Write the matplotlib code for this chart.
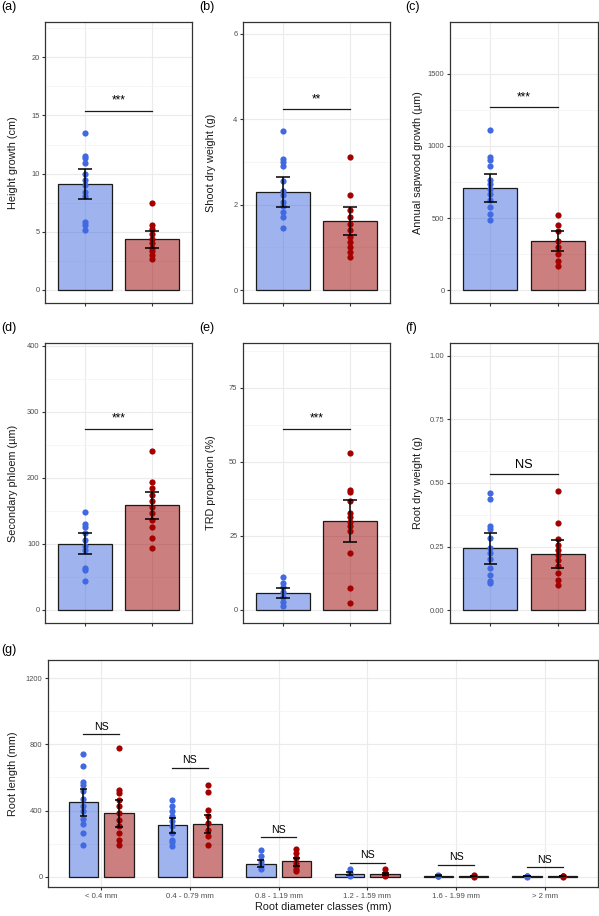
import matplotlib.pyplot as plt
import numpy as np

plt.rcParams['font.family'] = ['Liberation Sans', 'DejaVu Sans']

# ---- data ----
# (a) height growth
a_blue = [13.5, 11.5, 11.3, 10.9, 10.0, 9.4, 9.0, 8.4, 8.1, 5.8, 5.55, 5.1]
a_red = [7.5, 5.6, 5.2, 4.8, 4.4, 4.0, 3.6, 3.3, 3.0, 2.6]
a_mean = [9.1, 4.35]
a_lo = [7.8, 3.6]
a_hi = [10.4, 5.05]
# (b) shoot dry weight
b_blue = [3.72, 3.08, 3.0, 2.91, 2.55, 2.32, 2.24, 2.06, 1.96, 1.83, 1.71, 1.45]
b_red = [3.13, 2.24, 1.87, 1.71, 1.55, 1.40, 1.24, 1.12, 1.0, 0.89, 0.77]
b_mean = [2.3, 1.62]
b_lo = [1.95, 1.3]
b_hi = [2.65, 1.94]
# (c) annual sapwood growth
c_blue = [1110, 924, 901, 862, 762, 738, 704, 669, 622, 576, 530, 488]
c_red = [522, 453, 413, 344, 297, 251, 204, 170]
c_mean = [710, 340]
c_lo = [612, 270]
c_hi = [803, 408]
# (d) secondary phloem
d_blue = [148, 130, 126, 116, 106, 96, 91, 63, 60, 44]
d_red = [240, 194, 184, 174, 164, 156, 146, 136, 126, 108, 93]
d_mean = [100, 158]
d_lo = [84, 137]
d_hi = [116, 179]
# (e) TRD proportion
e_blue = [11.1, 9.0, 7.9, 6.2, 4.5, 2.8, 1.35]
e_red = [53.2, 40.5, 40.0, 36.8, 32.9, 31.5, 29.8, 28.4, 26.8, 19.3, 7.3, 2.5]
e_mean = [5.8, 30.0]
e_lo = [4.2, 23.0]
e_hi = [7.4, 37.0]
# (f) root dry weight
f_blue = [0.461, 0.437, 0.332, 0.319, 0.283, 0.244, 0.225, 0.201, 0.166, 0.140, 0.116, 0.107]
f_red = [0.469, 0.341, 0.279, 0.257, 0.238, 0.218, 0.198, 0.172, 0.146, 0.120, 0.099]
f_mean = [0.243, 0.22]
f_lo = [0.183, 0.165]
f_hi = [0.304, 0.276]

top_labels = ['(a)', '(b)', '(c)', '(d)', '(e)', '(f)']
top_ylabels = ['Height growth (cm)', 'Shoot dry weight (g)', 'Annual sapwood growth (\u00b5m)',
               'Secondary phloem (\u00b5m)', 'TRD proportion (%)', 'Root dry weight (g)']
top_sig = ['***', '**', '***', '***', '***', 'NS']
top_sig_y = [15.4, 4.24, 1268, 274, 61.3, 0.535]
top_ylim = [(-1.15, 23.05), (-0.3, 6.28), (-88, 1858), (-20, 404), (-4.4, 90.2), (-0.05, 1.05)]
top_yticks = [[0, 5, 10, 15, 20], [0, 2, 4, 6], [0, 500, 1000, 1500],
              [0, 100, 200, 300, 400], [0, 25, 50, 75], [0, 0.25, 0.5, 0.75, 1.0]]

# (g) root length by diameter class
classes = ['< 0.4 mm', '0.4 - 0.79 mm', '0.8 - 1.19 mm', '1.2 - 1.59 mm', '1.6 - 1.99 mm', '> 2 mm']
g_blue_mean = [450, 310, 80, 18, 6, 3]
g_red_mean = [383, 320, 94, 16, 5, 3]
g_blue_lo = [367, 265, 60, 10, 3, 2]
g_blue_hi = [530, 358, 100, 26, 8, 4]
g_red_lo = [299, 262, 64, 9, 3, 2]
g_red_hi = [466, 376, 114, 24, 7, 4]
g_blue_pts = [[740, 672, 570, 556, 516, 470, 430, 395, 350, 319, 265, 190],
              [462, 425, 395, 365, 335, 305, 265, 225, 208, 185],
              [160, 124, 94, 80, 64, 48],
              [44, 24, 12, 8, 4],
              [10, 6, 4, 2],
              [5, 3, 2, 1]]
g_red_pts = [[780, 526, 506, 466, 425, 385, 345, 305, 265, 225, 190],
             [552, 512, 405, 365, 325, 285, 245, 190],
             [170, 144, 114, 84, 64, 44, 34],
             [44, 24, 12, 8, 4],
             [9, 5, 3, 1],
             [5, 3, 2, 1]]
g_sig_y = [860, 660, 238, 86, 70, 56]

# ---- style ----
BLUE = '#4169E1'
RED = '#A50000'
RED_BASE = '#990000'
EDGE = '#1A1A1A'
PT = 20
W, H = 599, 916

fig = plt.figure(figsize=(W / 100, H / 100), dpi=100)


def px_axes(l, t, r, b):
    return fig.add_axes([l / W, 1 - b / H, (r - l) / W, (b - t) / H])


def style(ax, yticks, ylim):
    ax.set_ylim(*ylim)
    ax.set_yticks(yticks)
    minor = [(yticks[i] + yticks[i + 1]) / 2 for i in range(len(yticks) - 1)]
    step = yticks[1] - yticks[0]
    if yticks[-1] + step / 2 < ylim[1]:
        minor.append(yticks[-1] + step / 2)
    ax.set_yticks(minor, minor=True)
    ax.set_axisbelow(True)
    ax.grid(which='major', color='#EBEBEB', lw=0.8)
    ax.grid(which='minor', axis='y', color='#F3F3F3', lw=0.5)
    for s in ax.spines.values():
        s.set_color('#333333')
        s.set_linewidth(0.9)
    ax.tick_params(which='major', length=2.5, width=0.8, color='#333333',
                   labelsize=5.4, labelcolor='#4D4D4D', pad=1.5)
    ax.tick_params(which='minor', length=0)


def errbar(ax, x, lo, hi, half):
    ax.vlines(x, lo, hi, color='black', lw=1.1, zorder=4)
    ax.hlines([lo, hi], x - half, x + half, color='black', lw=1.1, zorder=4)


top_data = [(a_blue, a_red, a_mean, a_lo, a_hi), (b_blue, b_red, b_mean, b_lo, b_hi),
            (c_blue, c_red, c_mean, c_lo, c_hi), (d_blue, d_red, d_mean, d_lo, d_hi),
            (e_blue, e_red, e_mean, e_lo, e_hi), (f_blue, f_red, f_mean, f_lo, f_hi)]
col_lr = [(45, 192), (243, 390), (450, 598)]
row_tb = [(22, 303), (343, 623)]
lab_x = [1, 199, 405]

for i, (pb, pr, mean, lo, hi) in enumerate(top_data):
    l, r = col_lr[i % 3]
    t, b = row_tb[i // 3]
    ax = px_axes(l, t, r, b)
    xs = [1, 2]
    ax.bar(xs, mean, width=0.8, color=[BLUE, RED_BASE], alpha=0.5, zorder=2)
    ax.bar(xs, mean, width=0.8, fill=False, edgecolor=EDGE, lw=0.9, zorder=2)
    ax.scatter([1] * len(pb), pb, s=PT, color=BLUE, zorder=3, lw=0)
    ax.scatter([2] * len(pr), pr, s=PT, color=RED, zorder=3, lw=0)
    for x, lo_, hi_ in zip(xs, lo, hi):
        errbar(ax, x, lo_, hi_, 0.1)
    ax.plot([1, 2], [top_sig_y[i]] * 2, color='#1A1A1A', lw=0.9)
    fs = 9.2 if top_sig[i] == 'NS' else 8.5
    ax.annotate(top_sig[i], (1.5, top_sig_y[i]), xytext=(0, 2.5 if top_sig[i] == 'NS' else 3),
                textcoords='offset points', ha='center', va='bottom', fontsize=fs)
    ax.set_xlim(0.4, 2.6)
    ax.set_xticks(xs)
    ax.set_xticklabels(['', ''])
    style(ax, top_yticks[i], top_ylim[i])
    if i == 5:
        ax.set_yticklabels(['%.2f' % v for v in top_yticks[i]])
    ax.set_ylabel(top_ylabels[i], fontsize=7.8, color='#1A1A1A')
    ax.yaxis.set_label_coords(-27 / (r - l), 0.5)
    fig.text(lab_x[i % 3] / W, 1 - (t - 15) / H, top_labels[i], fontsize=9,
             ha='left', va='center')

# panel (g)
ax = px_axes(48, 660, 598, 887)
xc = np.arange(len(classes)) + 1
off, bw = 0.2, 0.33
ax.bar(xc - off, g_blue_mean, width=bw, color=BLUE, alpha=0.5, zorder=2)
ax.bar(xc + off, g_red_mean, width=bw, color=RED_BASE, alpha=0.5, zorder=2)
ax.bar(xc - off, g_blue_mean, width=bw, fill=False, edgecolor=EDGE, lw=0.9, zorder=2)
ax.bar(xc + off, g_red_mean, width=bw, fill=False, edgecolor=EDGE, lw=0.9, zorder=2)
for k in range(len(classes)):
    ax.scatter([xc[k] - off] * len(g_blue_pts[k]), g_blue_pts[k], s=PT, color=BLUE, zorder=3, lw=0)
    ax.scatter([xc[k] + off] * len(g_red_pts[k]), g_red_pts[k], s=PT, color=RED, zorder=3, lw=0)
    errbar(ax, xc[k] - off, g_blue_lo[k], g_blue_hi[k], 0.04)
    errbar(ax, xc[k] + off, g_red_lo[k], g_red_hi[k], 0.04)
    ax.plot([xc[k] - off, xc[k] + off], [g_sig_y[k]] * 2, color='#1A1A1A', lw=0.9)
    ax.annotate('NS', (xc[k], g_sig_y[k]), xytext=(0, 2), textcoords='offset points',
                ha='center', va='bottom', fontsize=7.6)
ax.set_xlim(0.4, 6.6)
ax.set_xticks(xc)
ax.set_xticklabels(classes)
style(ax, [0, 400, 800, 1200], (-62, 1310))
ax.tick_params(axis='x', labelsize=5.6)
ax.set_ylabel('Root length (mm)', fontsize=7.8, color='#1A1A1A')
ax.yaxis.set_label_coords(-30 / 550, 0.5)
ax.set_xlabel('Root diameter classes (mm)', fontsize=7.8, color='#1A1A1A', labelpad=2)
fig.text(1 / W, 1 - 650 / H, '(g)', fontsize=9, ha='left', va='center')

fig.savefig('out.png', dpi=100)
